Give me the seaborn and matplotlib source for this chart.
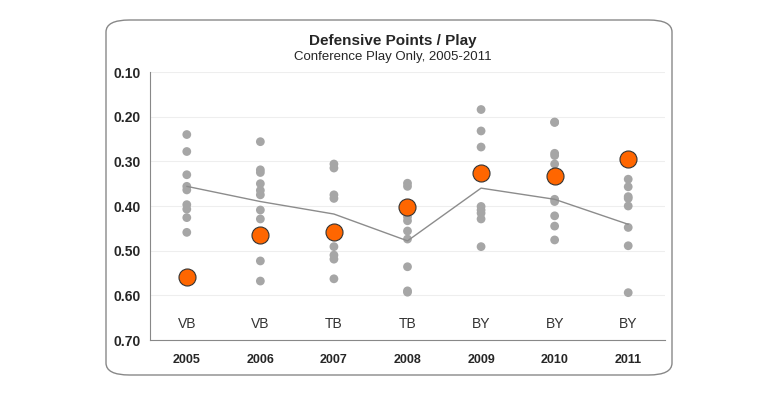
import matplotlib
matplotlib.use('Agg')
import matplotlib.pyplot as plt
import seaborn as sns
import pandas as pd
from matplotlib.patches import FancyBboxPatch

years = ["2005", "2006", "2007", "2008", "2009", "2010", "2011"]
coaches = ["VB", "VB", "TB", "TB", "BY", "BY", "BY"]
others = [
    [0.240, 0.278, 0.330, 0.356, 0.364, 0.397, 0.407, 0.426, 0.459],
    [0.256, 0.319, 0.325, 0.350, 0.365, 0.375, 0.409, 0.429, 0.523, 0.568],
    [0.306, 0.315, 0.375, 0.383, 0.491, 0.510, 0.519, 0.563],
    [0.349, 0.356, 0.424, 0.433, 0.456, 0.474, 0.536, 0.590, 0.593],
    [0.184, 0.232, 0.268, 0.401, 0.409, 0.416, 0.429, 0.491],
    [0.212, 0.213, 0.282, 0.287, 0.306, 0.385, 0.390, 0.422, 0.445, 0.476],
    [0.340, 0.357, 0.379, 0.383, 0.400, 0.448, 0.489, 0.594],
]
team = [0.558, 0.465, 0.459, 0.403, 0.325, 0.333, 0.295]
average = [0.356, 0.390, 0.418, 0.478, 0.360, 0.385, 0.441]

rows = [(i, v) for i, vals in enumerate(others) for v in vals]
df_other = pd.DataFrame(rows, columns=["x", "ppp"])
df_team = pd.DataFrame({"x": range(len(years)), "ppp": team, "avg": average})

sns.set_style("white")
plt.rcParams['font.family'] = ['Liberation Sans', 'DejaVu Sans']

fig = plt.figure(figsize=(7.82, 4.0), dpi=100)
box = FancyBboxPatch((106/782, 25/400), 566/782, 355/400,
                     boxstyle="round,pad=0,rounding_size=0.03",
                     transform=fig.transFigure, fc="white", ec="#888888", lw=1, zorder=-10)
fig.patches.append(box)
ax = fig.add_axes([150/782, 60/400, 515/782, 268/400])
ax.patch.set_alpha(0)

sns.lineplot(data=df_team, x="x", y="avg", color="#8c8c8c", lw=1, ax=ax)
sns.scatterplot(data=df_other, x="x", y="ppp", color="#a6a6a6", s=40, edgecolor="none", ax=ax)
sns.scatterplot(data=df_team, x="x", y="ppp", color="#ff6600", s=150, edgecolor="#333333",
                linewidth=0.8, ax=ax, zorder=5)

ax.set_ylim(0.70, 0.10)
ax.set_xlim(-0.5, 6.5)
ax.set_yticks([0.1, 0.2, 0.3, 0.4, 0.5, 0.6, 0.7])
ax.set_yticklabels([f"{v:.2f}" for v in ax.get_yticks()], fontweight="bold", fontsize=10)
ax.set_xticks(range(len(years)))
ax.set_xticklabels(years, fontweight="bold", fontsize=9)
ax.set_xticks([i - 0.5 for i in range(len(years) + 1)], minor=True)
ax.tick_params(axis="x", which="major", length=0, pad=10)
ax.tick_params(axis="x", which="minor", length=4, color="#888888", direction="out")
ax.tick_params(axis="y", length=3, color="#888888", direction="out")
ax.grid(axis="y", color="#eeeeee", lw=0.8)
for s in ["top", "right"]:
    ax.spines[s].set_visible(False)
for s in ["left", "bottom"]:
    ax.spines[s].set_color("#888888")
ax.set_xlabel("")
ax.set_ylabel("")
for i, c in enumerate(coaches):
    ax.text(i, 0.665, c, ha="center", va="center", fontsize=10, color="#333333")

fig.text(393/782, 355/400, "Defensive Points / Play", ha="center", fontweight="bold", fontsize=11)
fig.text(393/782, 340/400, "Conference Play Only, 2005-2011", ha="center", fontsize=9.5)

fig.savefig("out.png", dpi=100)
